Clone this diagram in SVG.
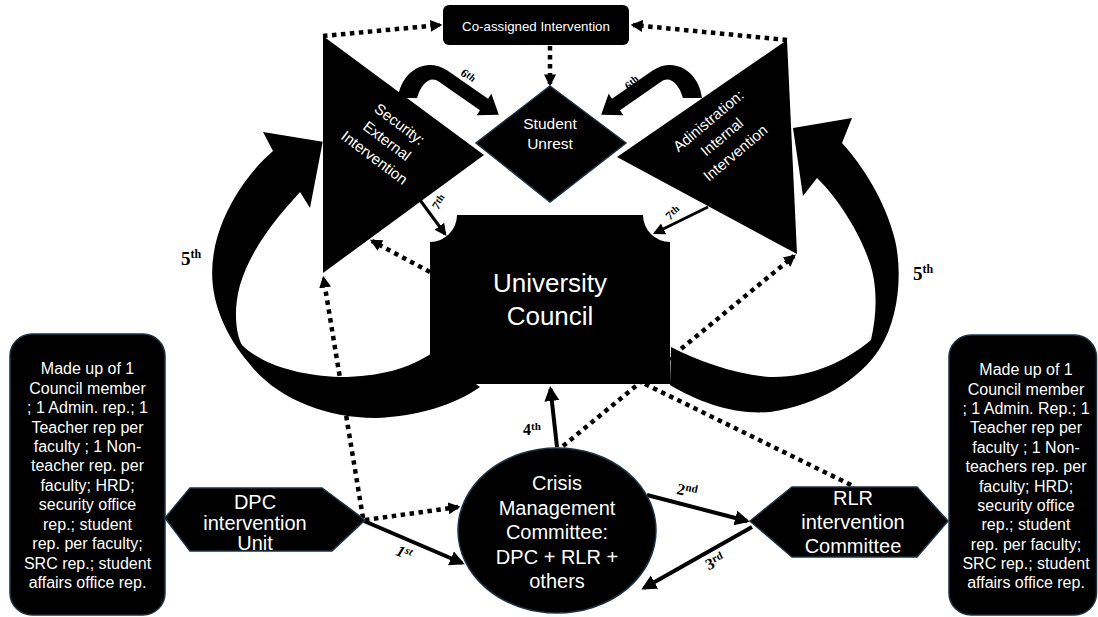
<svg xmlns="http://www.w3.org/2000/svg" width="1098" height="617" viewBox="0 0 1098 617">
<style>
.node{fill:#000;stroke:#1b3344;stroke-width:1.5}
.fill{fill:#000}
.t{font-family:"Liberation Sans",Arial,sans-serif;fill:#fff;text-anchor:middle}
.dot{fill:none;stroke:#000;stroke-width:4.5;stroke-dasharray:4.5 4.5}
.sol{fill:none;stroke:#000;stroke-width:4}
.thin{fill:none;stroke:#000;stroke-width:3}
.ord{font-family:"Liberation Serif","Times New Roman",serif;font-weight:bold;fill:#000;text-anchor:middle}
</style>
<defs>
<marker id="hd" viewBox="0 0 10 10" refX="8" refY="5" markerWidth="12" markerHeight="14" orient="auto" markerUnits="userSpaceOnUse"><path d="M0,0 L10,5 L0,10 Z"/></marker>
<marker id="hs" viewBox="0 0 10 10" refX="8" refY="5" markerWidth="15" markerHeight="16" orient="auto" markerUnits="userSpaceOnUse"><path d="M0,0 L10,5 L0,10 Z"/></marker>
<marker id="ht" viewBox="0 0 10 10" refX="8" refY="5" markerWidth="12" markerHeight="13" orient="auto" markerUnits="userSpaceOnUse"><path d="M0,0 L10,5 L0,10 Z"/></marker>
</defs>
<rect width="1098" height="617" fill="#fff"/>

<g id="connectors">
  <!-- dotted -->
  <path class="dot" d="M323,36 L440,25" marker-end="url(#hd)"/>
  <path class="dot" d="M787,40 L633,25" marker-end="url(#hd)"/>
  <path class="dot" d="M550,46 L550,84" marker-end="url(#hd)"/>
  <path class="dot" d="M430,272 L372,241" marker-end="url(#hd)"/>
  <path class="dot" d="M363,518 L323.5,278" marker-end="url(#hd)"/>
  <path class="dot" d="M365,520 L458,507" marker-end="url(#hd)"/>
  <path class="dot" d="M563,446 L794,256" marker-end="url(#hd)"/>
  <path class="dot" d="M645,384 L853,486"/>
  <!-- 5th big curved arrows -->
  <path class="fill" d="M322.7,141.7 L310,208 L300,192 C282,212 252,245 240,285 C233,310 236,335 242,345 C262,365 300,376 340,377 C380,377 410,368 432,353 L480,387 C455,405 415,417 375,418 C325,418 275,398 248,362 C220,328 207,290 214,252 C220,215 245,175 273,151 L263,132 Z"/>
  <path class="fill" d="M793,128 L852,118 L842,143 C862,165 885,200 895,240 C903,275 898,320 880,348 C860,380 818,405 770,412 C735,415 700,403 670,385 L671,347 C700,362 735,374 770,377 C810,378 845,362 871,340 C878,310 877,280 868,258 C860,235 840,200 817,178 L803,196 Z"/>
  <!-- 6th curved arrows -->
  <path class="fill" d="M398,98 C401,72 425,56 447,70.3 L488,98.8 L491.4,93.8 L498.8,114.8 L476.6,115.2 L480,110.2 L439,81.7 C430,75 421,84 417,98 Z"/>
  <path class="fill" transform="translate(1100,0) scale(-1,1)" d="M398,98 C401,72 425,56 447,70.3 L488,98.8 L491.4,93.8 L498.8,114.8 L476.6,115.2 L480,110.2 L439,81.7 C430,75 421,84 417,98 Z"/>
  <!-- solid arrows -->
  <path class="sol" d="M557,447 L550.5,389" marker-end="url(#hs)"/>
  <path class="sol" d="M364,521 L462,563" marker-end="url(#hs)"/>
  <path class="sol" d="M647,495 L747,521" marker-end="url(#hs)"/>
  <path class="sol" d="M752,527 L644,588" marker-end="url(#hs)"/>
  <path class="thin" d="M420,200 L445,234" marker-end="url(#ht)"/>
  <path class="thin" d="M708,207 L655,233" marker-end="url(#ht)"/>
</g>

<g id="co-assigned">
  <rect x="443" y="5" width="186" height="40" rx="6" class="fill"/>
  <text class="t" x="536" y="30.5" font-size="13.3">Co-assigned Intervention</text>
</g>

<g id="security">
  <path class="fill" d="M323,36 L484,155 L323,273 Z"/>
  <g transform="translate(387,141) rotate(37)">
    <text class="t" x="0" y="-16" font-size="15">Security:</text>
    <text class="t" x="0" y="5" font-size="15">External</text>
    <text class="t" x="0" y="26" font-size="15">Intervention</text>
  </g>
</g>

<g id="administration">
  <path class="fill" d="M787,40 L617,157 L797,254 Z"/>
  <g transform="translate(722,137) rotate(-40)">
    <text class="t" x="0" y="-16" font-size="15">Adinistration:</text>
    <text class="t" x="0" y="5" font-size="15">Internal</text>
    <text class="t" x="0" y="26" font-size="15">Intervention</text>
  </g>
</g>

<g id="student-unrest">
  <path class="node" d="M550,86 L626,143 L550,202 L476,143 Z"/>
  <text class="t" x="550" y="129" font-size="15.5">Student</text>
  <text class="t" x="550" y="149" font-size="15.5">Unrest</text>
</g>

<g id="university-council">
  <path class="fill" d="M457,215 L643,215 A27,27 0 0 0 670,242 L670,384 L430,384 L430,242 A27,27 0 0 0 457,215 Z"/>
  <text class="t" x="550" y="292" font-size="26">University</text>
  <text class="t" x="550" y="325" font-size="26">Council</text>
</g>

<g id="crisis-committee">
  <ellipse class="node" cx="557" cy="530.5" rx="99" ry="82.5"/>
  <text class="t" x="557" y="490" font-size="20">Crisis</text>
  <text class="t" x="557" y="514.5" font-size="20">Management</text>
  <text class="t" x="557" y="539" font-size="20">Committee:</text>
  <text class="t" x="557" y="563.5" font-size="20">DPC + RLR +</text>
  <text class="t" x="557" y="588" font-size="20">others</text>
</g>

<g id="dpc-unit">
  <path class="node" d="M165,518 L190,488 L322,488 L365,520 L332,551 L190,551 Z"/>
  <text class="t" x="255" y="509" font-size="20">DPC</text>
  <text class="t" x="255" y="529.5" font-size="20">intervention</text>
  <text class="t" x="255" y="549.5" font-size="20">Unit</text>
</g>

<g id="rlr-committee">
  <path class="node" d="M750,521 L792,487 L917,487 L948,521 L917,557 L792,557 Z"/>
  <text class="t" x="853" y="505" font-size="20">RLR</text>
  <text class="t" x="853" y="529" font-size="20">intervention</text>
  <text class="t" x="853" y="553" font-size="20">Committee</text>
</g>

<g id="dpc-members">
  <rect class="node" x="10" y="334" width="155" height="281" rx="22"/>
  <g class="t" font-size="16">
    <text x="87.5" y="374">Made up of 1</text>
    <text x="87.5" y="393.5">Council member</text>
    <text x="87.5" y="413">; 1 Admin. rep.; 1</text>
    <text x="87.5" y="432.5">Teacher rep per</text>
    <text x="87.5" y="452">faculty ; 1 Non-</text>
    <text x="87.5" y="471">teacher rep. per</text>
    <text x="87.5" y="490.5">faculty; HRD;</text>
    <text x="87.5" y="510">security office</text>
    <text x="87.5" y="529.5">rep.;  student</text>
    <text x="87.5" y="549">rep. per faculty;</text>
    <text x="87.5" y="568.5">SRC rep.; student</text>
    <text x="87.5" y="588">affairs office rep.</text>
  </g>
</g>

<g id="rlr-members">
  <rect class="node" x="949" y="335" width="147.5" height="280" rx="22"/>
  <g class="t" font-size="16">
    <text x="1026" y="375">Made up of 1</text>
    <text x="1026" y="394.5">Council member</text>
    <text x="1026" y="414">; 1 Admin. Rep.; 1</text>
    <text x="1026" y="433">Teacher rep per</text>
    <text x="1026" y="452.5">faculty ; 1 Non-</text>
    <text x="1026" y="472">teachers rep. per</text>
    <text x="1026" y="491.5">faculty; HRD;</text>
    <text x="1026" y="510.5">security office</text>
    <text x="1026" y="530">rep.;  student</text>
    <text x="1026" y="549.5">rep. per faculty;</text>
    <text x="1026" y="569">SRC rep.; student</text>
    <text x="1026" y="588">affairs office rep.</text>
  </g>
</g>

<g id="labels">
  <text class="ord" x="532" y="435" font-size="16">4<tspan dy="-5" font-size="11">th</tspan></text>
  <text class="ord" transform="translate(404,553) rotate(22)" y="5" font-size="16" font-style="italic">1<tspan dy="-5" font-size="11">st</tspan></text>
  <text class="ord" transform="translate(687,491) rotate(12)" y="5" font-size="16">2<tspan dy="-5" font-size="11">nd</tspan></text>
  <text class="ord" transform="translate(715,562) rotate(-25)" y="5" font-size="16">3<tspan dy="-5" font-size="11">rd</tspan></text>
  <text class="ord" x="191" y="265" font-size="19">5<tspan dy="-7" font-size="12">th</tspan></text>
  <text class="ord" x="923" y="280" font-size="19">5<tspan dy="-7" font-size="12">th</tspan></text>
  <text class="ord" transform="translate(468,76) rotate(40)" y="4" font-size="12">6<tspan dy="-2" font-size="10">th</tspan></text>
  <text class="ord" transform="translate(632,83) rotate(-40)" y="4" font-size="12">6<tspan dy="-2" font-size="10">th</tspan></text>
  <text class="ord" transform="translate(439,202) rotate(-55)" y="4" font-size="12">7<tspan dy="-2" font-size="10">th</tspan></text>
  <text class="ord" transform="translate(673,213) rotate(-40)" y="4" font-size="12">7<tspan dy="-2" font-size="10">th</tspan></text>
</g>
</svg>
